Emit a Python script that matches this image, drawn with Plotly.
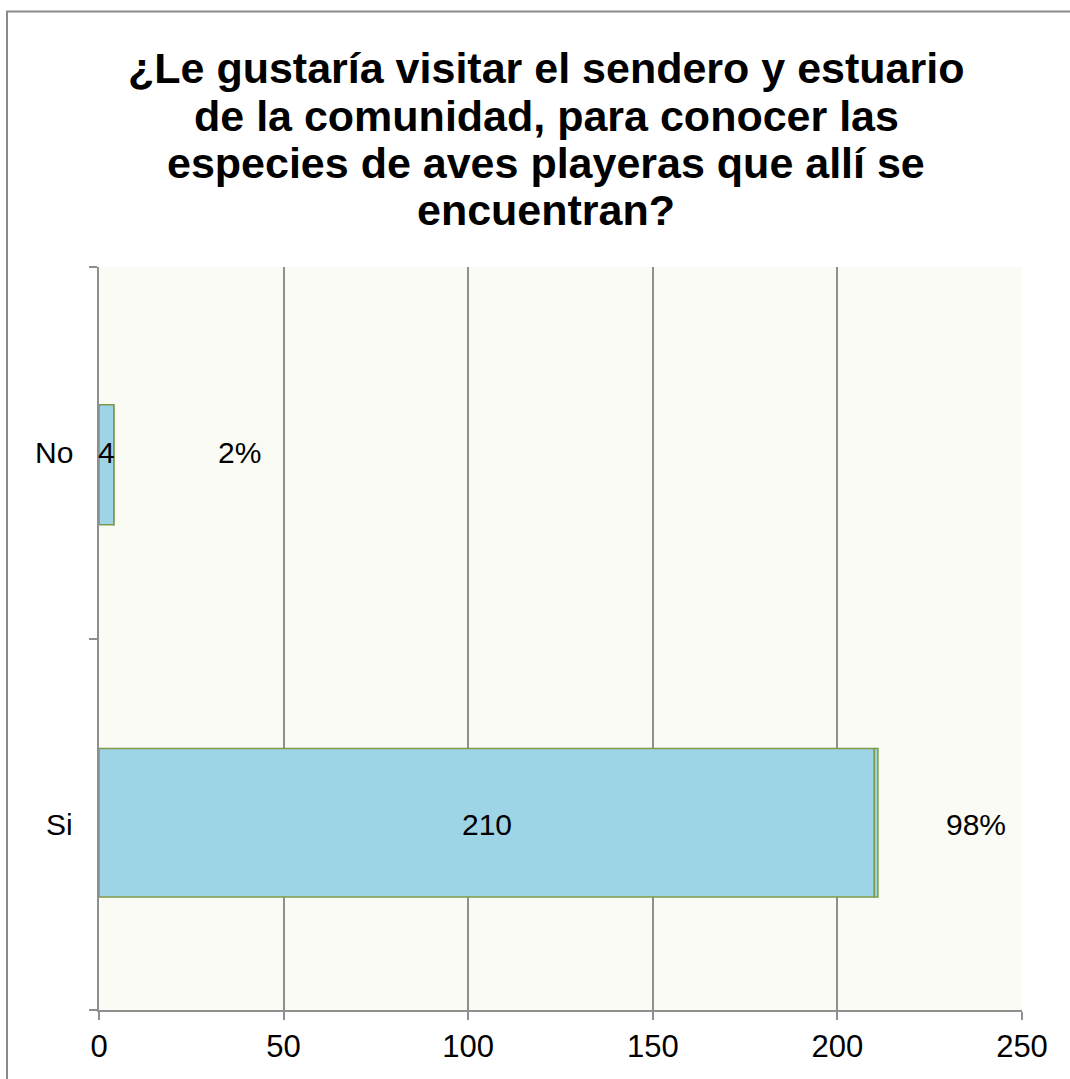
import plotly.graph_objects as go

# Survey answers (bottom to top on the category axis)
categories = ["Si", "No"]
counts = [210, 4]
percents = [98, 2]
pct_label_x = [237.5, 38]          # where the percentage labels sit along the value axis
x_ticks = [0, 50, 100, 150, 200, 250]

title_lines = [
    "¿Le gustaría visitar el sendero y estuario",
    "de la comunidad, para conocer las",
    "especies de aves playeras que allí se",
    "encuentran?",
]

FONT = "Liberation Sans, Arial, sans-serif"
BAR_FILL = "#9dd5e7"
BAR_EDGE = "#7f9a48"
GRID = "#8f8f8f"
W, H = 1070, 1079
ML, MR, MT, MB = 99, 48, 267, 69
PW, PH = W - ML - MR, H - MT - MB


def px_to_paper_x(px):
    return (px - ML) / PW


def px_to_paper_y(py):
    return (H - MB - py) / PH


fig = go.Figure()

# main count bars
fig.add_trace(go.Bar(
    y=categories, x=counts, orientation="h",
    width=[0.40, 0.323], offset=[-0.196, -0.194],
    marker=dict(color=BAR_FILL, line=dict(color=BAR_EDGE, width=1.5)),
    hoverinfo="skip", showlegend=False,
))
# share of respondents, stacked on the end as a thin segment
fig.add_trace(go.Bar(
    y=categories, x=[p / 100 for p in percents], orientation="h",
    base=counts,
    width=[0.40, 0.323], offset=[-0.196, -0.194],
    marker=dict(color=BAR_FILL, line=dict(color=BAR_EDGE, width=1.5)),
    hoverinfo="skip", showlegend=False,
))

annotations = []
for cat, c, p, px in zip(categories, counts, percents, pct_label_x):
    annotations.append(dict(x=c / 2, y=cat, xref="x", yref="y", text=str(c),
                            showarrow=False, font=dict(family=FONT, size=30, color="#000")))
    annotations.append(dict(x=px, y=cat, xref="x", yref="y", text=f"{p}%",
                            showarrow=False, font=dict(family=FONT, size=30, color="#000")))

# category names, right-aligned beside the axis
for cat in categories:
    annotations.append(dict(x=0, y=cat, xref="paper", yref="y", text=cat,
                            showarrow=False, xanchor="right", xshift=-24,
                            font=dict(family=FONT, size=30, color="#000")))

title_y = [68, 116, 163, 210]
for line, yy in zip(title_lines, title_y):
    annotations.append(dict(x=px_to_paper_x(546), y=px_to_paper_y(yy), xref="paper", yref="paper",
                            text=f"<b>{line}</b>", showarrow=False, xanchor="center",
                            yanchor="middle",
                            font=dict(family=FONT, size=43, color="#000")))

fig.update_layout(
    width=W, height=H,
    margin=dict(l=ML, r=MR, t=MT, b=MB),
    paper_bgcolor="white",
    plot_bgcolor="#f9fbf4",
    barmode="overlay",
    annotations=annotations,
    shapes=[dict(type="rect", xref="paper", yref="paper",
                 x0=px_to_paper_x(7), x1=px_to_paper_x(1200),
                 y0=px_to_paper_y(1200), y1=px_to_paper_y(11.5),
                 line=dict(color="#8a8a8a", width=2), fillcolor="rgba(0,0,0,0)",
                 layer="below")],
)

fig.update_xaxes(
    range=[0, 250], tickvals=x_ticks, ticktext=[str(t) for t in x_ticks],
    showgrid=True, gridcolor=GRID, gridwidth=2,
    showline=True, linecolor=GRID, linewidth=2, mirror=False,
    ticks="outside", ticklen=8, tickcolor=GRID, tickwidth=2,
    tickfont=dict(family=FONT, size=31, color="#000"),
    zeroline=False, fixedrange=True,
)
fig.update_yaxes(
    type="category", categoryorder="array", categoryarray=categories,
    range=[-0.5, 1.5],
    showgrid=False,
    showline=True, linecolor=GRID, linewidth=2,
    ticks="outside", ticklen=8, tickcolor=GRID, tickwidth=2,
    tickmode="array", tickvals=[-0.5, 0.5, 1.5], ticktext=["", "", ""],
    zeroline=False, fixedrange=True,
)

fig.write_html("out.html")
